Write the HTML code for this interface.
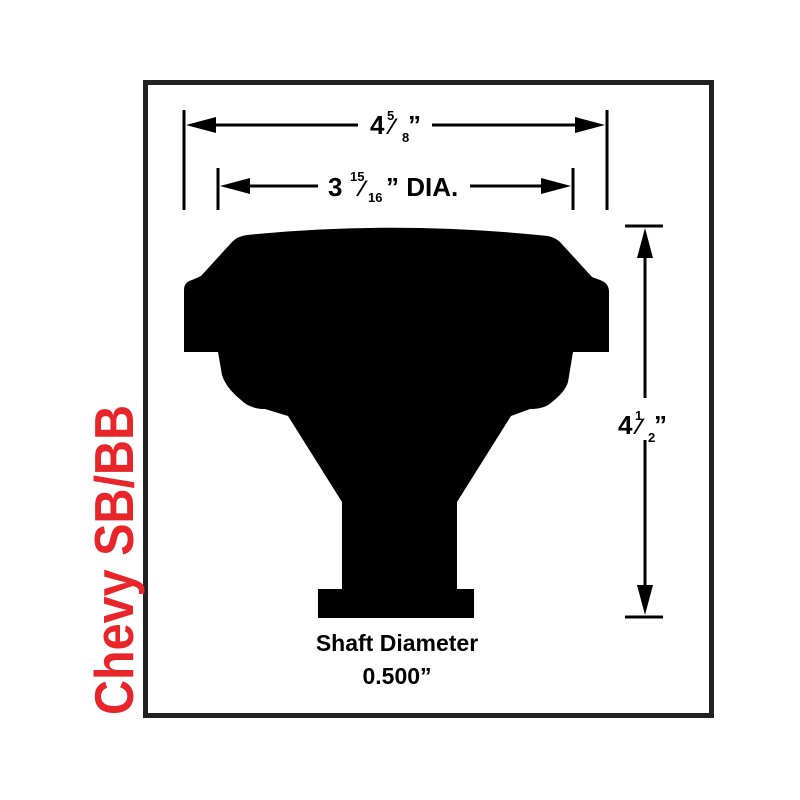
<!DOCTYPE html>
<html><head><style>body{margin:0;background:#fff}svg{display:block}</style></head><body>
<svg width="800" height="800" viewBox="0 0 800 800" xmlns="http://www.w3.org/2000/svg" font-family="Liberation Sans, Arial, sans-serif" font-weight="bold">
<rect x="0" y="0" width="800" height="800" fill="#fff"/>
<rect x="145.5" y="82.5" width="566" height="633" fill="none" stroke="#222" stroke-width="5"/>
<text transform="translate(133,715) rotate(-90)" font-size="55" fill="#e8262a" textLength="310" lengthAdjust="spacingAndGlyphs">Chevy SB/BB</text>
<!-- body -->
<path fill="#000" d="M247,235 Q395,220 548,236 Q556,238 560,242 L592,277 L600,280 Q609,283 609,292 L609,352 L573,352 L568,382 Q565,392 552,402 Q545,409 530,409 L511,416 L457,502 L457,589 L474,589 L474,618 L318,618 L318,589 L342,589 L342,502 L288,416 L265,409 Q250,409 241,400 Q226,388 222,375 L218,352 L184,352 L184,290 Q184,282 192,280 L201,276 L232,242 Q238,236 247,235 Z"/>
<!-- top dim -->
<g stroke="#000" stroke-width="3">
<line x1="184" y1="110" x2="184" y2="210"/><line x1="607" y1="110" x2="607" y2="210"/>
<line x1="200" y1="125" x2="358" y2="125"/><line x1="432" y1="125" x2="590" y2="125"/>
<line x1="218" y1="168" x2="218" y2="210"/><line x1="573" y1="168" x2="573" y2="210"/>
<line x1="235" y1="186" x2="318" y2="186"/><line x1="470" y1="186" x2="555" y2="186"/>
<line x1="625" y1="226" x2="663" y2="226"/><line x1="625" y1="617" x2="663" y2="617"/>
<line x1="645" y1="250" x2="645" y2="398"/><line x1="645" y1="440" x2="645" y2="595"/>
</g>
<g fill="#000">
<polygon points="186,125 216,117 216,133"/><polygon points="605,125 575,117 575,133"/>
<polygon points="220,186 250,178 250,194"/><polygon points="571,186 541,178 541,194"/>
<polygon points="645,228 637,258 653,258"/><polygon points="645,615 637,585 653,585"/>
</g>
<g fill="#000">
<text x="370" y="134" font-size="26">4</text><text x="387" y="120" font-size="13">5</text><text x="390" y="134" font-size="22">⁄</text><text x="402" y="142" font-size="13">8</text><text x="408" y="134" font-size="26">”</text>
<text x="328" y="196" font-size="26">3</text><text x="350" y="181" font-size="13">15</text><text x="360" y="196" font-size="22">⁄</text><text x="368" y="202" font-size="13">16</text><text x="386" y="196" font-size="26">” DIA.</text>
<text x="618" y="434" font-size="26">4</text><text x="635" y="420" font-size="13">1</text><text x="637" y="434" font-size="22">⁄</text><text x="648" y="442" font-size="13">2</text><text x="654" y="434" font-size="26">”</text>
<text x="397" y="651" font-size="23" text-anchor="middle">Shaft Diameter</text>
<text x="397" y="684" font-size="23" text-anchor="middle">0.500”</text>
</g>
</svg>
</body></html>
